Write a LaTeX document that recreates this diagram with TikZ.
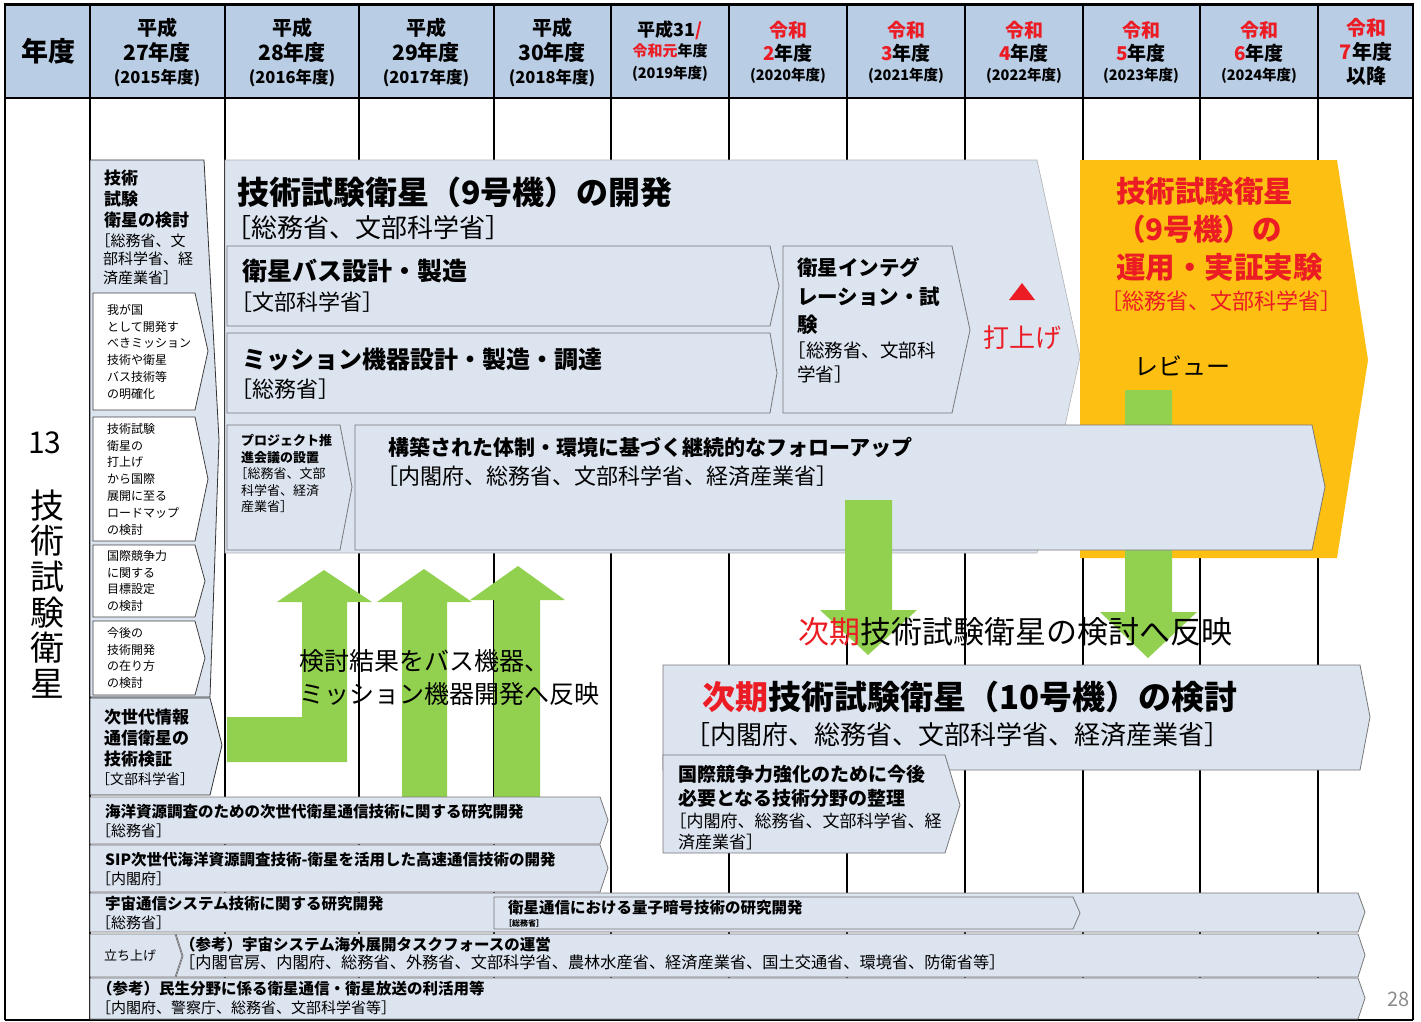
\documentclass[tikz,border=0pt]{standalone}
\usepackage{fontspec}
\setmainfont{Noto Sans CJK JP}
\definecolor{hdrblue}{RGB}{185,205,229}
\definecolor{boxblue}{RGB}{220,228,240}
\definecolor{boxline}{RGB}{120,120,120}
\definecolor{jorange}{RGB}{252,191,18}
\definecolor{jgreen}{RGB}{146,208,80}
\definecolor{jred}{RGB}{236,28,36}
\newcommand\myfs[2]{\fontsize{#1}{#2}\selectfont}
\newcommand\lbk{\hspace*{-0.5em}}
\tikzset{
 hdrt/.style={inner sep=0},
 txt/.style={inner sep=0, anchor=west},
 mtxt/.style={inner sep=0, anchor=north west, align=left},
 bluebox/.style={fill=boxblue, draw=boxline, line width=0.8},
 whitebox/.style={fill=white, draw=black!75, line width=0.8},
 garrow/.style={fill=jgreen, draw=none},
 gridline/.style={line width=1.5, draw=black},
}
\begin{document}
\begin{tikzpicture}[x=1pt,y=-1pt]
\useasboundingbox (0,0) rectangle (1421,1022);
\fill[white] (0,0) rectangle (1421,1022);
% header
\fill[hdrblue] (5,5) rectangle (1413,98);
\foreach \x in {5,90,225,359,494,611,729,847,965,1083,1200,1318,1413}
  \draw[gridline] (\x,5) -- (\x,1020);
\draw[line width=3] (4,5) -- (1414,5);
\draw[gridline] (5,98) -- (1413,98);
\draw[gridline] (5,1020) -- (1413,1020);
\node[hdrt,font=\bfseries\myfs{27}{30}] (hnendo) at (48,51) {年度};
\foreach \cx/\n/\yr [count=\i] in {157/27/2015,292/28/2016,426/29/2017,552/30/2018}{
  \node[hdrt,font=\bfseries\myfs{20}{24}] (hh\i a) at (\cx,28) {平成};
  \node[hdrt,font=\bfseries\myfs{21}{24}] (hh\i b) at (\cx,53) {\n 年度};
  \node[hdrt,font=\bfseries\myfs{16.5}{20}] (hh\i c) at (\cx,78) {(\yr 年度)};
}
\node[hdrt,font=\bfseries\myfs{18}{22}] (hr1a) at (670,30) {平成31\textcolor{jred}{/}};
\node[hdrt,font=\bfseries\myfs{15}{18}] (hr1b) at (670,51) {\textcolor{jred}{令和元}年度};
\node[hdrt,font=\bfseries\myfs{14.5}{18}] (hr1c) at (670,74) {(2019年度)};
\foreach \cx/\n/\yr [count=\i] in {788/2/2020,906/3/2021,1024/4/2022,1141/5/2023,1259/6/2024}{
  \node[hdrt,font=\bfseries\myfs{19}{24}] (hr\i a) at (\cx,30) {\textcolor{jred}{令和}};
  \node[hdrt,font=\bfseries\myfs{19}{24}] (hr\i b) at (\cx,53) {\textcolor{jred}{\n}年度};
  \node[hdrt,font=\bfseries\myfs{14.5}{18}] (hr\i c) at (\cx,76) {(\yr 年度)};
}
\node[hdrt,font=\bfseries\myfs{20}{24}] (hla) at (1366,28) {\textcolor{jred}{令和}};
\node[hdrt,font=\bfseries\myfs{20}{24}] (hlb) at (1366,52) {\textcolor{jred}{7}年度};
\node[hdrt,font=\bfseries\myfs{20}{24}] (hlc) at (1366,76) {以降};
% left label
\node[hdrt,font=\myfs{30}{34}] (n13) at (45,443) {13};
\node[hdrt,align=center,font=\myfs{34}{35.6}] (vt) at (47,594) {技\\術\\試\\験\\衛\\星};
% left column chevron
\draw[fill=boxblue, draw=black!80, line width=0.8] (90,160) -- (204,160) -- (219,440) -- (210,697) -- (90,697) -- cycle;
\node[mtxt,font=\bfseries\myfs{17}{21.3}] (lc1) at (104,169.5) {技術\\試験\\衛星の検討};
\node[mtxt,font=\myfs{15}{18.5}] (lc2) at (103,233.5) {\lbk［総務省、文\\部科学省、経\\済産業省］};
\draw[whitebox] (93,293) -- (195,293) -- (208,351) -- (195,410) -- (93,410) -- cycle;
\node[mtxt,font=\myfs{12}{16.8}] (w1) at (107,304) {我が国\\として開発す\\べきミッション\\技術や衛星\\バス技術等\\の明確化};
\draw[whitebox] (93,417) -- (195,417) -- (208,479) -- (195,541) -- (93,541) -- cycle;
\node[mtxt,font=\myfs{12}{16.8}] (w2) at (107,423) {技術試験\\衛星の\\打上げ\\から国際\\展開に至る\\ロードマップ\\の検討};
\draw[whitebox] (93,545) -- (195,545) -- (205,581) -- (195,617) -- (93,617) -- cycle;
\node[mtxt,font=\myfs{12}{16.8}] (w3) at (107,550) {国際競争力\\に関する\\目標設定\\の検討};
\draw[whitebox] (93,621) -- (195,621) -- (205,658) -- (195,695) -- (93,695) -- cycle;
\node[mtxt,font=\myfs{12}{16.8}] (w4) at (107,627) {今後の\\技術開発\\の在り方\\の検討};
\draw[fill=boxblue, draw=black!80, line width=0.8] (90,698) -- (210,698) -- (222,745) -- (210,795) -- (90,795) -- cycle;
\node[mtxt,font=\bfseries\myfs{17}{21}] (ng1) at (104,708.5) {次世代情報\\通信衛星の\\技術検証};
\node[txt,font=\myfs{14}{17}] (ng2) at (96,779) {［文部科学省］};
% main chevron 9
\draw[fill=boxblue, draw=black!30, line width=0.6] (225,160) -- (1037,160) -- (1080,357) -- (1037,553) -- (225,553) -- cycle;
\node[txt,font=\bfseries\myfs{32}{36}] (m1) at (237,192) {技術試験衛星（9号機）の開発};
\node[txt,font=\myfs{26}{30}] (m2) at (225,228) {［総務省、文部科学省］};
\draw[bluebox] (227,246) -- (770,246) -- (779,286) -- (770,326) -- (227,326) -- cycle;
\node[txt,font=\bfseries\myfs{25}{30}] (bus1) at (242,271) {衛星バス設計・製造};
\node[txt,font=\myfs{22}{26}] (bus2) at (230,302) {［文部科学省］};
\draw[bluebox] (227,333) -- (770,333) -- (777,373) -- (770,413) -- (227,413) -- cycle;
\node[txt,font=\bfseries\myfs{24}{28}] (mis1) at (242,359) {ミッション機器設計・製造・調達};
\node[txt,font=\myfs{22}{26}] (mis2) at (230,389) {［総務省］};
\draw[bluebox] (783,246) -- (952,246) -- (970,330) -- (952,413) -- (783,413) -- cycle;
\node[mtxt,font=\bfseries\myfs{20.5}{28.5}] (int1) at (797,257.5) {衛星インテグ\\レーション・試\\験};
\node[mtxt,font=\myfs{18.5}{24}] (int2) at (797,341.5) {\lbk［総務省、文部科\\学省］};
\fill[jred] (1009,300) -- (1035,300) -- (1022,283) -- cycle;
\node[hdrt,text=jred,font=\myfs{26}{30}] (launch) at (1022,338) {打上げ};
% orange chevron
\fill[jorange] (1080,160) -- (1337,160) -- (1368,360) -- (1337,558) -- (1080,558) -- cycle;
\node[mtxt,text=jred,font=\bfseries\myfs{29.5}{38}] (op1) at (1116,177) {技術試験衛星\\（9号機）の\\運用・実証実験};
\node[txt,text=jred,font=\myfs{22}{26}] (op2) at (1100,301) {［総務省、文部科学省］};
\node[txt,font=\myfs{24}{28}] (rev) at (1134,366) {レビュー};
% green arrow (review) behind follow-up
\fill[garrow] (1125,390) -- (1172,390) -- (1172,612) -- (1197,612) -- (1148,658) -- (1100,612) -- (1125,612) -- cycle;
% project box and follow-up
\draw[bluebox] (227,425) -- (340,425) -- (352,487) -- (340,550) -- (227,550) -- cycle;
\node[mtxt,font=\bfseries\myfs{13}{16.5}] (pj1) at (241,434.5) {プロジェクト推\\進会議の設置};
\node[mtxt,font=\myfs{13}{16.5}] (pj2) at (241,467.5) {\lbk［総務省、文部\\科学省、経済\\産業省］};
\draw[bluebox] (355,425) -- (1312,425) -- (1325,487) -- (1312,550) -- (355,550) -- cycle;
\node[txt,font=\bfseries\myfs{21}{25}] (fu1) at (388,447) {構築された体制・環境に基づく継続的なフォローアップ};
\node[txt,font=\myfs{22}{26}] (fu2) at (376,476) {［内閣府、総務省、文部科学省、経済産業省］};
% green arrow down (left)
\fill[garrow] (845,500) -- (892,500) -- (892,610) -- (917,610) -- (868,655) -- (820,610) -- (845,610) -- cycle;
\node[txt,font=\myfs{31}{35}] (refl) at (798,632) {\textcolor{jred}{次期}技術試験衛星の検討へ反映};
% up arrows
\fill[garrow] (227,717) -- (302,717) -- (302,602) -- (277,602) -- (324,570) -- (372,602) -- (347,602) -- (347,762) -- (227,762) -- cycle;
\fill[garrow] (402,797) -- (402,602) -- (377,602) -- (424,569) -- (472,602) -- (447,602) -- (447,797) -- cycle;
\fill[garrow] (494,797) -- (494,600) -- (470,600) -- (518,566) -- (565,600) -- (540,600) -- (540,797) -- cycle;
\node[mtxt,font=\myfs{25}{33}] (upt) at (299,649.5) {検討結果をバス機器、\\ミッション機器開発へ反映};
% next satellite 10
\draw[bluebox] (663,665) -- (1360,665) -- (1370,717) -- (1360,770) -- (663,770) -- cycle;
\node[txt,font=\bfseries\myfs{33}{38}] (n10a) at (702,697) {\textcolor{jred}{次期}技術試験衛星（10号機）の検討};
\node[txt,font=\myfs{26}{30}] (n10b) at (684,735) {［内閣府、総務省、文部科学省、経済産業省］};
\draw[bluebox] (663,755) -- (945,755) -- (960,805) -- (945,853) -- (663,853) -- cycle;
\node[mtxt,font=\bfseries\myfs{19}{24}] (kk1) at (678,764.5) {国際競争力強化のために今後\\必要となる技術分野の整理};
\node[mtxt,font=\myfs{17}{21}] (kk2) at (678,812.5) {\lbk［内閣府、総務省、文部科学省、経\\済産業省］};
% bottom rows
\draw[bluebox] (90,797) -- (600,797) -- (608,820) -- (600,844) -- (90,844) -- cycle;
\node[txt,font=\bfseries\myfs{15.5}{18}] (r1a) at (105,812) {海洋資源調査のための次世代衛星通信技術に関する研究開発};
\node[txt,font=\myfs{15}{18}] (r1b) at (96,831) {［総務省］};
\draw[bluebox] (90,845) -- (600,845) -- (608,868) -- (600,892) -- (90,892) -- cycle;
\node[txt,font=\bfseries\myfs{15.5}{18}] (r2a) at (105,860) {SIP次世代海洋資源調査技術-衛星を活用した高速通信技術の開発};
\node[txt,font=\myfs{15}{18}] (r2b) at (96,879) {［内閣府］};
\draw[bluebox] (90,893) -- (1358,893) -- (1365,912) -- (1358,932) -- (90,932) -- cycle;
\node[txt,font=\bfseries\myfs{15.5}{18}] (r3a) at (105,904) {宇宙通信システム技術に関する研究開発};
\node[txt,font=\myfs{15}{18}] (r3b) at (96,923) {［総務省］};
\draw[bluebox] (494,897) -- (1073,897) -- (1080,913) -- (1073,929) -- (494,929) -- cycle;
\node[txt,font=\bfseries\myfs{15.5}{18}] (r3c) at (508,908) {衛星通信における量子暗号技術の研究開発};
\node[txt,font=\bfseries\myfs{8}{10}] (r3d) at (504,923) {［総務省］};
\draw[bluebox] (90,934) -- (175,934) -- (182,956) -- (175,977) -- (90,977) -- cycle;
\node[txt,font=\myfs{13}{16}] (r4a) at (104,956) {立ち上げ};
\draw[bluebox] (176,934) -- (1358,934) -- (1365,955) -- (1358,977) -- (176,977) -- (183,956) -- cycle;
\node[txt,font=\bfseries\myfs{15.5}{18}] (r4b) at (180,945) {（参考）宇宙システム海外展開タスクフォースの運営};
\node[txt,font=\myfs{16.2}{18}] (r4c) at (179,962) {［内閣官房、内閣府、総務省、外務省、文部科学省、農林水産省、経済産業省、国土交通省、環境省、防衛省等］};
\draw[bluebox] (90,978) -- (1358,978) -- (1365,998) -- (1358,1019) -- (90,1019) -- cycle;
\node[txt,font=\bfseries\myfs{15.5}{18}] (r5a) at (97,989) {（参考）民生分野に係る衛星通信・衛星放送の利活用等};
\node[txt,font=\myfs{15}{18}] (r5b) at (96,1008) {［内閣府、警察庁、総務省、文部科学省等］};
\node[txt,text=black!45,font=\myfs{20}{24}] (pg) at (1387,999) {28};
\end{tikzpicture}
\end{document}
